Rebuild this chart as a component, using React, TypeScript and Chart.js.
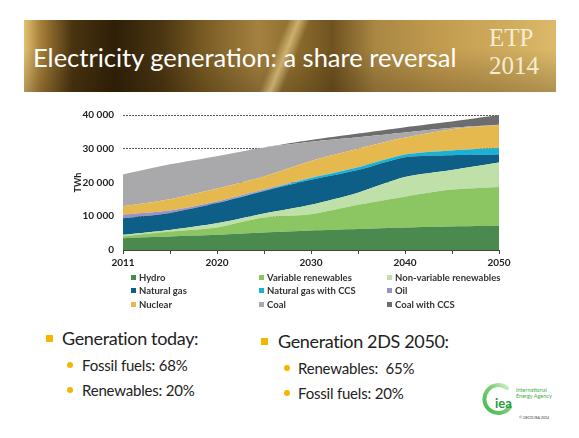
import React, { useEffect, useRef } from 'react';
import { Chart, registerables } from 'chart.js';

Chart.register(...registerables);

// ---- data ----
const years = ['2011', '2015', '2020', '2025', '2030', '2035', '2040', '2045', '2050'];
const labeledYears = ['2011', '2020', '2030', '2040', '2050'];

const hydro = [3500, 4000, 4500, 5200, 5750, 6200, 6700, 7000, 7200];
const variableRenewables = [600, 1500, 2200, 4400, 4850, 7200, 9100, 10900, 11500];
const nonVariableRenewables = [400, 450, 1200, 1200, 2800, 3600, 5800, 5800, 7200];
const naturalGas = [4900, 5050, 6000, 6700, 7400, 6700, 5900, 4400, 2400];
const naturalGasCCS = [0, 0, 0, 100, 500, 800, 800, 1400, 1900];
const oil = [1100, 700, 500, 300, 100, 0, 0, 0, 0];
const nuclear = [2500, 3350, 3800, 3900, 5000, 5500, 5000, 6300, 6900];
const coal = [9400, 10350, 9600, 8600, 5700, 3400, 1500, 400, 0];
const coalCCS = [0, 0, 0, 0, 500, 1100, 1600, 1900, 2900];

const seriesLabels = [
  'Hydro', 'Variable renewables', 'Non-variable renewables',
  'Natural gas', 'Natural gas with CCS', 'Oil',
  'Nuclear', 'Coal', 'Coal with CCS',
];
const seriesData = [hydro, variableRenewables, nonVariableRenewables, naturalGas, naturalGasCCS, oil, nuclear, coal, coalCCS];

const yTickValues = [0, 10000, 20000, 30000, 40000];

const todayBullets = ['Fossil fuels: 68%', 'Renewables: 20%'];
const futureBullets = ['Renewables:\u00a0 65%', 'Fossil fuels: 20%'];

// ---- styles ----
const seriesColors = ['#4b8a4f', '#8cc663', '#bfe0a8', '#0d5f87', '#17b2d6', '#9c90c4', '#e6b94f', '#a9a9ab', '#6d6d6f'];
const SANS = 'Lato, "Open Sans", sans-serif';

function fmt(v: number) {
  return String(v).replace(/\B(?=(\d{3})+(?!\d))/g, ' ');
}

export default function App() {
  const ref = useRef<HTMLCanvasElement>(null);

  useEffect(() => {
    const chart = new Chart(ref.current as HTMLCanvasElement, {
      type: 'line',
      data: {
        labels: years,
        datasets: seriesLabels.map((label, i) => ({
          label,
          data: seriesData[i],
          backgroundColor: seriesColors[i],
          borderColor: seriesColors[i],
          borderWidth: 0,
          pointRadius: 0,
          fill: i === 0 ? 'origin' : '-1',
          tension: 0.25,
        })),
      },
      options: {
        animation: false,
        responsive: false,
        maintainAspectRatio: false,
        layout: { padding: { top: 11, right: 21, left: 0, bottom: 0 } },
        plugins: { legend: { display: false }, tooltip: { enabled: false } },
        scales: {
          x: {
            grid: { display: true, drawOnChartArea: false, drawTicks: true, tickLength: 4, color: '#444' },
            border: { display: true, color: '#444', width: 1 },
            ticks: {
              autoSkip: false,
              maxRotation: 0,
              padding: 3,
              color: '#222',
              font: { family: SANS, size: 10, weight: 'bold' },
              callback: (_v: any, i: number) => (labeledYears.includes(years[i]) ? years[i] : ''),
            },
            afterFit: (s: any) => { s.height = 25; },
          },
          y: {
            stacked: true,
            min: 0,
            max: 40000,
            afterBuildTicks: (s: any) => { s.ticks = yTickValues.map((v) => ({ value: v })); },
            ticks: {
              padding: 9,
              color: '#222',
              font: { family: SANS, size: 10, weight: 'bold' },
              callback: (v: any) => fmt(Number(v)),
            },
            grid: { drawTicks: false, color: '#555', lineWidth: 1 },
            border: { display: false, dash: [2, 1] },
            title: {
              display: true,
              text: 'TWh',
              color: '#222',
              font: { family: SANS, size: 9, weight: 'bold' },
              padding: { top: 13, bottom: 0 },
            },
            afterFit: (s: any) => { s.width = 63; },
          },
        },
      },
    } as any);
    return () => chart.destroy();
  }, []);

  const legendCols = [131, 259, 387];
  const legendRows = [277, 290.5, 304];

  return (
    <div style={{ position: 'fixed', left: 0, top: 0, width: 579, height: 438, background: '#fff', overflow: 'hidden', fontFamily: SANS }}>
      {/* banner */}
      <div
        style={{
          position: 'absolute', left: 24, top: 20, width: 532, height: 72,
          background:
            'linear-gradient(112deg, rgba(255,235,170,0) 47%, rgba(255,230,160,0.55) 49%, rgba(255,235,170,0) 51%),' +
            'linear-gradient(180deg, rgba(0,0,0,0) 40%, rgba(40,25,5,0.25) 100%),' +
            'linear-gradient(90deg, #e2c273 0%, #a9813a 3%, #4a3410 9%, #2e1f07 17%, #4b3612 26%, #7a5c24 34%, #a48140 44%, #8a6a2c 52%, #6f5320 58%, #a98743 66%, #c29b4f 78%, #cfaa5c 90%, #dcba6a 100%)',
        }}
      />
      <div style={{ position: 'absolute', left: 33, top: 41, fontSize: 25.5, lineHeight: '32px', color: '#fff', whiteSpace: 'nowrap' }}>
        Electricity generation: a share reversal
      </div>
      <div style={{ position: 'absolute', left: 489, top: 24, fontSize: 25, lineHeight: '28px', color: '#f5ecd2', fontFamily: '"Liberation Serif", "DejaVu Serif", serif', fontWeight: 300 }}>
        ETP<br />2014
      </div>

      {/* chart */}
      <canvas ref={ref} width={460} height={175} style={{ position: 'absolute', left: 60, top: 100, width: 460, height: 175 }} />

      {/* legend */}
      {seriesLabels.map((label, i) => {
        const c = i % 3;
        const r = Math.floor(i / 3);
        return (
          <div key={label} style={{ position: 'absolute', left: legendCols[c], top: legendRows[r] - 7, height: 14, display: 'flex', alignItems: 'center', whiteSpace: 'nowrap' }}>
            <span style={{ display: 'inline-block', width: 5, height: 5, background: seriesColors[i], marginRight: 3 }} />
            <span style={{ fontSize: 9.5, fontWeight: 700, color: '#333' }}>{label}</span>
          </div>
        );
      })}

      {/* bullets left */}
      <div style={{ position: 'absolute', left: 46, top: 335, width: 7, height: 7, background: '#f7b500' }} />
      <div style={{ position: 'absolute', left: 62, top: 326, fontSize: 18, letterSpacing: -0.35, lineHeight: '24px', color: '#222', whiteSpace: 'nowrap' }}>Generation today:</div>
      {todayBullets.map((t, i) => (
        <React.Fragment key={t}>
          <div style={{ position: 'absolute', left: 67, top: 362 + i * 25, width: 6, height: 6, borderRadius: 3, background: '#f7b500' }} />
          <div style={{ position: 'absolute', left: 82, top: 355 + i * 25, fontSize: 15, letterSpacing: -0.2, lineHeight: '20px', color: '#222', whiteSpace: 'nowrap' }}>{t}</div>
        </React.Fragment>
      ))}

      {/* bullets right */}
      <div style={{ position: 'absolute', left: 261, top: 338, width: 7, height: 7, background: '#f7b500' }} />
      <div style={{ position: 'absolute', left: 278, top: 329, fontSize: 18, letterSpacing: -0.35, lineHeight: '24px', color: '#222', whiteSpace: 'nowrap' }}>Generation 2DS 2050:</div>
      {futureBullets.map((t, i) => (
        <React.Fragment key={t}>
          <div style={{ position: 'absolute', left: 284, top: 365 + i * 25, width: 6, height: 6, borderRadius: 3, background: '#f7b500' }} />
          <div style={{ position: 'absolute', left: 298, top: 358 + i * 25, fontSize: 15, letterSpacing: -0.2, lineHeight: '20px', color: '#222', whiteSpace: 'nowrap' }}>{t}</div>
        </React.Fragment>
      ))}

      {/* IEA logo */}
      <svg style={{ position: 'absolute', left: 479, top: 379 }} width={100} height={45} viewBox="0 0 100 45">
        <defs>
          <linearGradient id="ring" x1="0" y1="1" x2="1" y2="0">
            <stop offset="0" stopColor="#3fb84a" />
            <stop offset="0.6" stopColor="#7fd07a" />
            <stop offset="1" stopColor="#d9f2d4" />
          </linearGradient>
        </defs>
        <path d="M 28 9 A 14 14 0 1 0 31 28" fill="none" stroke="url(#ring)" strokeWidth={4} strokeLinecap="round" />
        <text x={16} y={29} fontSize={13} fontWeight={700} fill="#1f9a3c" fontFamily={SANS}>iea</text>
        <text x={37} y={13} fontSize={5.5} fill="#3fae49" fontFamily={SANS}>International</text>
        <text x={37} y={19} fontSize={5.5} fill="#3fae49" fontFamily={SANS}>Energy Agency</text>
        <text x={40} y={40} fontSize={3.6} fill="#333" fontFamily={SANS}>© OECD/IEA 2014</text>
      </svg>
    </div>
  );
}
